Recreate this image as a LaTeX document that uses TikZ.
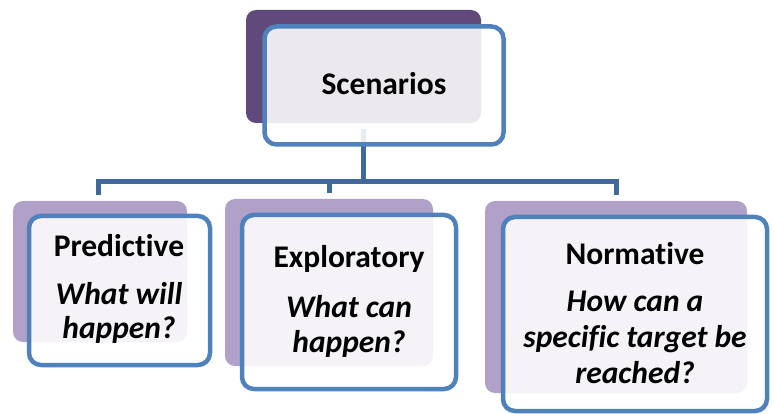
\documentclass[tikz,border=0pt]{standalone}
\usepackage{fontspec}
\setmainfont{Carlito}[Ligatures={NoCommon,NoContextual}]
\definecolor{darkpurple}{HTML}{5F4A7B}
\definecolor{lightpurple}{HTML}{B1A0C7}
\definecolor{boxblue}{HTML}{4F81BD}
\definecolor{linkblue}{HTML}{41689A}
\begin{document}
\begin{tikzpicture}[x=1pt,y=-1pt,
  backtop/.style={fill=darkpurple, rounded corners=10pt},
  backbot/.style={fill=lightpurple, rounded corners=10pt},
  frontbox/.style={draw=boxblue, line width=4.5pt, fill=white, fill opacity=0.88, rounded corners=12pt},
  link/.style={draw=linkblue, line width=5pt},
  title/.style={anchor=base, inner sep=0pt, font=\fontsize{31.5}{34}\selectfont\bfseries},
  question/.style={anchor=base, inner sep=0pt, font=\fontsize{31.5}{34}\selectfont\bfseries\itshape}]
\useasboundingbox (0,0) rectangle (774,414);
% connectors
\coordinate (ctop) at (363,129);
\coordinate (cmid) at (363,182);
\coordinate (hl) at (98,182);
\coordinate (hr) at (616,182);
\coordinate (hm) at (329,182);
\coordinate (d1) at (98,195);
\coordinate (d2) at (329,193);
\coordinate (d3) at (616,195);
\draw[link] (ctop) -- (cmid);
\draw[link] (d1) -- (hl) -- (hr) -- (d3);
\draw[link] (hm) -- (d2);
% top
\path[backtop] (246,10) rectangle (481,123);
\path[frontbox] (264.5,26.5) rectangle (503.5,144.5);
\node[title] (scen) at (384,95) {Scenarios};
% predictive
\path[backbot] (13,201) rectangle (187,342);
\path[frontbox] (29,216) rectangle (210,365);
\node[title] (p1) at (119,257) {Predictive};
\node[question] (p2) at (119,305) {What will};
\node[question] (p3) at (119,338) {happen?};
% exploratory
\path[backbot] (225,199) rectangle (433,366);
\path[frontbox] (242,215) rectangle (456,389);
\node[title] (e1) at (349,268) {Exploratory};
\node[question] (e2) at (349,317) {What can};
\node[question] (e3) at (349,352) {happen?};
% normative
\path[backbot] (485,201) rectangle (747,393);
\path[frontbox] (503,217) rectangle (767,411);
\node[title] (n1) at (635,265) {Normative};
\node[question] (n2) at (635,312) {How can a};
\node[question] (n3) at (635,347) {specific target be};
\node[question] (n4) at (635,383) {reached?};
\end{tikzpicture}
\end{document}
